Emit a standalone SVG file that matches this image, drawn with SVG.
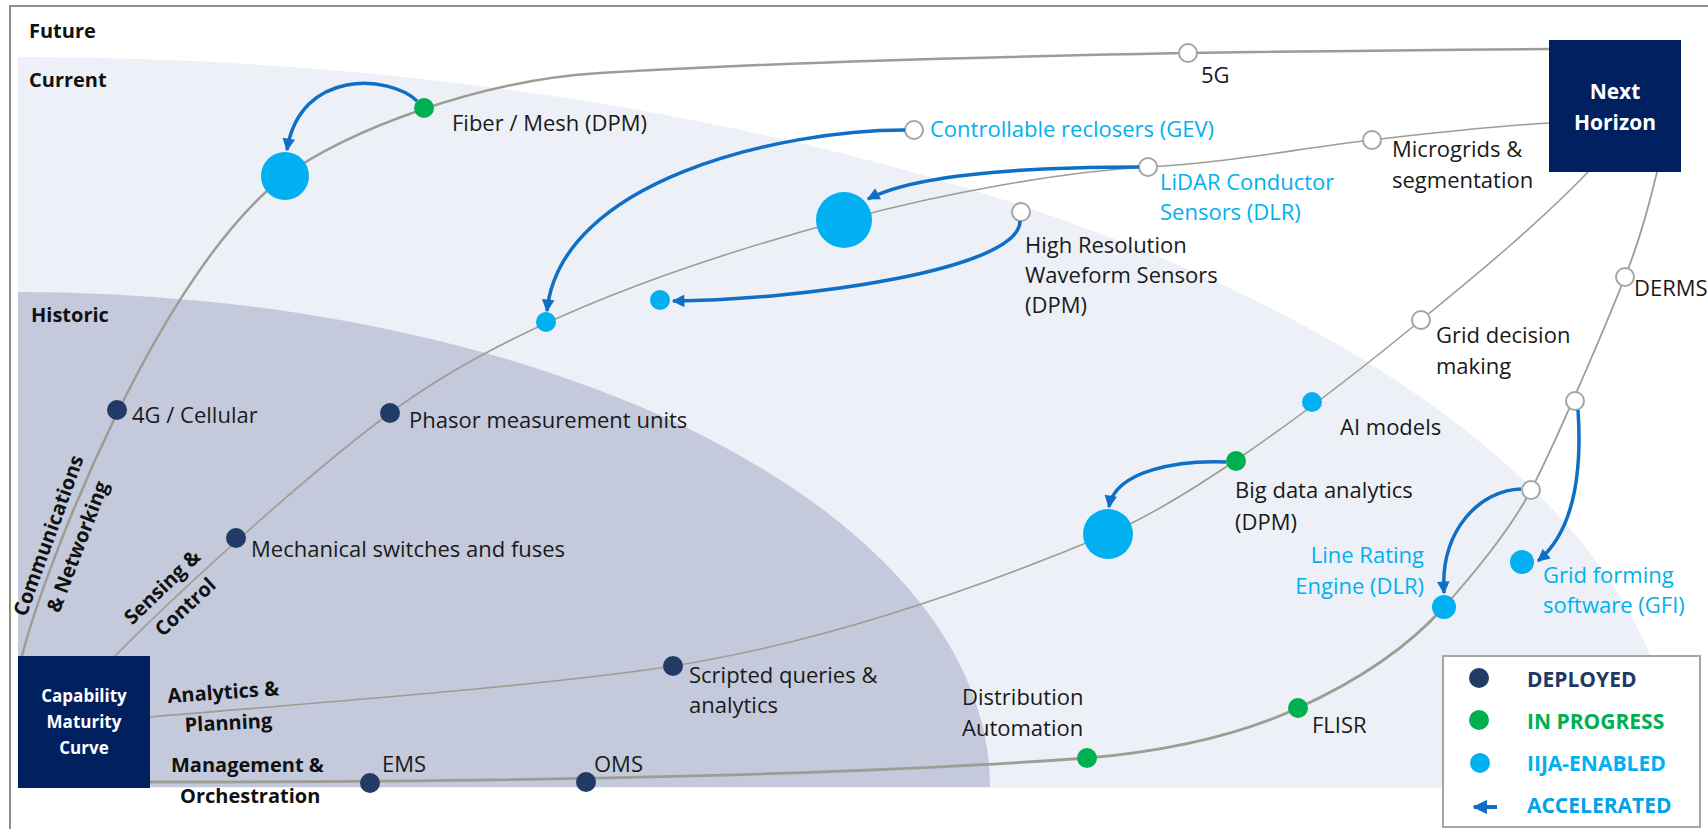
<svg xmlns="http://www.w3.org/2000/svg" width="1708" height="829" viewBox="0 0 1708 829">
<style>
.t{font-family:"Open Sans","Liberation Sans",sans-serif;font-size:22px;fill:#1a1a1a}
.c{fill:#00b0f0}
.h{font-family:"Open Sans","Liberation Sans",sans-serif;font-size:20px;font-weight:700;fill:#111}
.bx{font-family:"Open Sans","Liberation Sans",sans-serif;font-weight:700;fill:#fff;text-anchor:middle}
.lg{font-family:"Open Sans","Liberation Sans",sans-serif;font-size:21px;font-weight:700}
.cv{fill:none;stroke:#9e9d94;stroke-linecap:round}
.ar{fill:none;stroke:#0f6fc6;stroke-width:3.5;marker-end:url(#ah)}
.dn{fill:#213a66}
.dg{fill:#00b050}
.dc{fill:#00b0f0}
.dw{fill:#fff;stroke:#a5a5a5;stroke-width:2}
</style>
<defs>
<marker id="ah" viewBox="0 0 10 10" refX="9" refY="5" markerWidth="4" markerHeight="3.6" orient="auto" markerUnits="strokeWidth">
<path d="M0,0 L10,5 L0,10 z" fill="#0f6fc6"/>
</marker>
</defs>
<rect width="1708" height="829" fill="#fff"/>
<g id="backgrounds">
<path d="M18 788 L18 57 A1660 731 0 0 1 1678 788 Z" fill="#edf0f6"/>
<path d="M18 787 L18 292 A972 495 0 0 1 990 787 Z" fill="#c4cadc"/>
<path d="M10 829 V6 H1708" fill="none" stroke="#8f8f88" stroke-width="2"/>
</g>
<g id="zone-labels">
<text class="h" x="29" y="38">Future</text>
<text class="h" x="29" y="87">Current</text>
<text class="h" x="31" y="322">Historic</text>
</g>
<g id="connectors">
<path class="cv" stroke-width="2.5" d="M22 656 C45 565,160 270,285 176 C345 131,480 80,600 73 C800 61,1100 52,1549 49"/>
<path class="cv" stroke-width="1.6" d="M115 656 C170 600,300 480,390 413 C480 346,620 280,844 220 C944 193,1060 172,1148 167 C1236 162,1300 148,1372 140 C1440 132,1500 126,1549 123"/>
<path class="cv" stroke-width="1.6" d="M150 717 C350 700,550 685,673 666 C800 646,950 600,1108 534 C1180 504,1300 420,1421 320 C1480 272,1540 222,1588 172"/>
<path class="cv" stroke-width="2.8" d="M150 782 C400 782,800 779,1087 758 C1180 750,1250 730,1298 708 C1360 680,1410 645,1444 607"/>
<path class="cv" stroke-width="1.8" d="M1444 607 C1478 569,1510 530,1531 490 C1552 450,1600 340,1625 277 C1635 252,1648 210,1657 172"/>
</g>
<g id="n-4g"><circle class="dn" cx="117" cy="410" r="10"/><text class="t" x="132" y="423">4G / Cellular</text></g>
<g id="n-comm-iija"><circle class="dc" cx="285" cy="176" r="24"/></g>
<g id="n-fiber"><circle class="dg" cx="424" cy="108" r="10"/><text class="t" x="452" y="131">Fiber / Mesh (DPM)</text></g>
<g id="n-5g"><circle class="dw" cx="1188" cy="53" r="9"/><text class="t" x="1201" y="83">5G</text></g>
<g id="n-reclosers"><circle class="dw" cx="914" cy="130" r="9"/><text class="t c" x="930" y="137">Controllable reclosers (GEV)</text></g>
<g id="n-microgrids"><circle class="dw" cx="1372" cy="140" r="9"/><text class="t" x="1392" y="157">Microgrids &amp;</text><text class="t" x="1392" y="188">segmentation</text></g>
<g id="n-lidar"><circle class="dw" cx="1148" cy="167" r="9"/><text class="t c" x="1160" y="190">LiDAR Conductor</text><text class="t c" x="1160" y="220">Sensors (DLR)</text></g>
<g id="n-hrws"><circle class="dw" cx="1021" cy="212" r="9"/><text class="t" x="1025" y="253">High Resolution</text><text class="t" x="1025" y="283">Waveform Sensors</text><text class="t" x="1025" y="313">(DPM)</text></g>
<g id="n-sense-iija-big"><circle class="dc" cx="844" cy="220" r="28"/></g>
<g id="n-sense-iija-small"><circle class="dc" cx="546" cy="322" r="10"/></g>
<g id="n-hrws-iija"><circle class="dc" cx="660" cy="300" r="10"/></g>
<g id="n-phasor"><circle class="dn" cx="390" cy="413" r="10"/><text class="t" x="409" y="428">Phasor measurement units</text></g>
<g id="n-mech"><circle class="dn" cx="236" cy="538" r="10"/><text class="t" x="251" y="557">Mechanical switches and fuses</text></g>
<g id="n-scripted"><circle class="dn" cx="673" cy="666" r="10"/><text class="t" x="689" y="683">Scripted queries &amp;</text><text class="t" x="689" y="713">analytics</text></g>
<g id="n-anal-iija"><circle class="dc" cx="1108" cy="534" r="25"/></g>
<g id="n-bigdata"><circle class="dg" cx="1236" cy="461" r="10"/><text class="t" x="1235" y="498">Big data analytics</text><text class="t" x="1235" y="530">(DPM)</text></g>
<g id="n-ai"><circle class="dc" cx="1312" cy="402" r="10"/><text class="t" x="1340" y="435">AI models</text></g>
<g id="n-griddecision"><circle class="dw" cx="1421" cy="320" r="9"/><text class="t" x="1436" y="343">Grid decision</text><text class="t" x="1436" y="374">making</text></g>
<g id="n-ems"><circle class="dn" cx="370" cy="783" r="10"/><text class="t" x="382" y="772">EMS</text></g>
<g id="n-oms"><circle class="dn" cx="586" cy="782" r="10"/><text class="t" x="594" y="772">OMS</text></g>
<g id="n-da"><circle class="dg" cx="1087" cy="758" r="10"/><text class="t" x="962" y="705">Distribution</text><text class="t" x="962" y="736">Automation</text></g>
<g id="n-flisr"><circle class="dg" cx="1298" cy="708" r="10"/><text class="t" x="1312" y="733">FLISR</text></g>
<g id="n-linerating"><circle class="dc" cx="1444" cy="607" r="12"/><text class="t c" x="1424" y="563" text-anchor="end">Line Rating</text><text class="t c" x="1424" y="594" text-anchor="end">Engine (DLR)</text></g>
<g id="n-mgmt-white1"><circle class="dw" cx="1531" cy="490" r="9"/></g>
<g id="n-mgmt-white2"><circle class="dw" cx="1575" cy="401" r="9"/></g>
<g id="n-gridforming"><circle class="dc" cx="1522" cy="562" r="12"/><text class="t c" x="1543" y="583">Grid forming</text><text class="t c" x="1543" y="613">software (GFI)</text></g>
<g id="n-derms"><circle class="dw" cx="1625" cy="277" r="9"/><text class="t" x="1634" y="296">DERMS</text></g>
<g id="accelerations">
<path class="ar" d="M417 101 C390 75,300 68,287 150"/>
<path class="ar" d="M905 130 C780 130,560 180,547 311"/>
<path class="ar" d="M1139 167 C1040 167,920 172,868 199"/>
<path class="ar" d="M1020 221 C1020 270,800 300,673 301"/>
<path class="ar" d="M1226 462 C1180 460,1115 470,1109 507"/>
<path class="ar" d="M1521 489 C1480 490,1440 530,1444 593"/>
<path class="ar" d="M1578 410 C1582 470,1575 530,1538 561"/>
</g>
<g id="axis-labels">
<text class="h" font-size="21" text-anchor="middle" transform="translate(55 538) rotate(-70)">Communications</text>
<text class="h" font-size="21" text-anchor="middle" transform="translate(84 549) rotate(-69)">&amp; Networking</text>
<text class="h" font-size="21" text-anchor="middle" transform="translate(167 592) rotate(-44)">Sensing &amp;</text>
<text class="h" font-size="21" text-anchor="middle" transform="translate(190 612) rotate(-43)">Control</text>
<text class="h" font-size="21.5" transform="translate(168 703) rotate(-4)">Analytics &amp;</text>
<text class="h" font-size="21" transform="translate(185 732) rotate(-3)">Planning</text>
<text class="h" font-size="21.5" x="171" y="772">Management &amp;</text>
<text class="h" font-size="21" x="180" y="803">Orchestration</text>
</g>
<g id="n-cmc">
<rect x="18" y="656" width="132" height="132" fill="#002060"/>
<text class="bx" font-size="17" x="84" y="702">Capability</text>
<text class="bx" font-size="17" x="84" y="728">Maturity</text>
<text class="bx" font-size="17" x="84" y="754">Curve</text>
</g>
<g id="n-nexthorizon">
<rect x="1549" y="40" width="132" height="132" fill="#002060"/>
<text class="bx" font-size="21" x="1615" y="99">Next</text>
<text class="bx" font-size="21" x="1615" y="130">Horizon</text>
</g>
<g id="legend">
<rect x="1443" y="656" width="257" height="171" fill="#fff" stroke="#a5a5a5" stroke-width="2"/>
<circle class="dn" cx="1479" cy="678" r="10"/>
<circle class="dg" cx="1479" cy="720" r="10"/>
<circle class="dc" cx="1480" cy="763" r="10"/>
<path d="M1497 807 L1474 807" fill="none" stroke="#0f6fc6" stroke-width="4" marker-end="url(#ah)"/>
<text class="lg" x="1527" y="687" fill="#1f3864">DEPLOYED</text>
<text class="lg" x="1527" y="729" fill="#00b050">IN PROGRESS</text>
<text class="lg" x="1527" y="771" fill="#00b0f0">IIJA-ENABLED</text>
<text class="lg" x="1527" y="813" fill="#00a2e8">ACCELERATED</text>
</g>
</svg>
